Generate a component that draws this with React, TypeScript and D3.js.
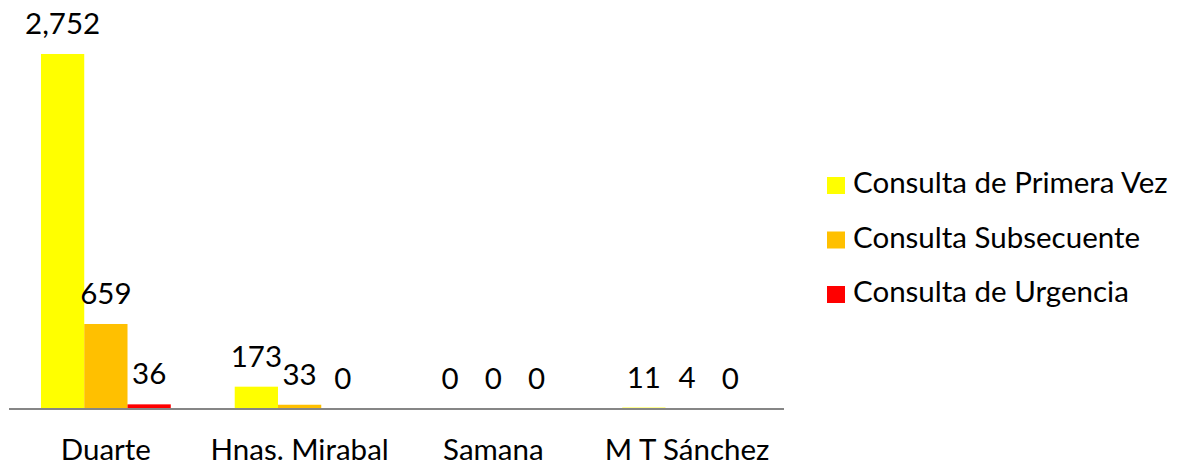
import React from "react";
import * as d3 from "d3";

const categories = ["Duarte", "Hnas. Mirabal", "Samana", "M T Sánchez"];
const seriesNames = ["Consulta de Primera Vez", "Consulta Subsecuente", "Consulta de Urgencia"];
const primeraVez = [2752, 173, 0, 11];
const subsecuente = [659, 33, 0, 4];
const urgencia = [36, 0, 0, 0];
const colors = ["#FFFF00", "#FFC000", "#FF0000"];

const W = 1181;
const H = 466;
const FONT = "Lato, 'Liberation Sans', sans-serif";
const FS = 29.5;

export default function App() {
  const series = [primeraVez, subsecuente, urgencia];
  const x0 = d3.scaleBand<string>().domain(categories).range([9, 784]).paddingInner(0.33).paddingOuter(0.165);
  const x1 = d3.scaleBand<number>().domain([0, 1, 2]).range([0, x0.bandwidth()]).padding(0);
  const y = d3.scaleLinear().domain([0, 3000]).range([409, 22]);
  const fmt = d3.format(",");

  return (
    <svg width={W} height={H} style={{ position: "absolute", left: 0, top: 0, background: "#fff" }} fontFamily={FONT}>
      {categories.map((c, i) => (
        <g key={c} transform={`translate(${x0(c)},0)`}>
          {series.map((s, j) => (
            <rect key={j} x={x1(j)} y={y(s[i])} width={x1.bandwidth()} height={y(0) - y(s[i])} fill={colors[j]} />
          ))}
          {series.map((s, j) => (
            <text key={"t" + j} x={(x1(j) as number) + x1.bandwidth() / 2} y={y(s[i]) - 20} textAnchor="middle" fontSize={FS} fill="#000">
              {fmt(s[i])}
            </text>
          ))}
        </g>
      ))}
      <line x1={9} x2={784} y1={y(0)} y2={y(0)} stroke="#868686" strokeWidth={2} />
      {categories.map((c) => (
        <text key={"c" + c} x={(x0(c) as number) + x0.bandwidth() / 2} y={460} textAnchor="middle" fontSize={FS} fill="#000">
          {c}
        </text>
      ))}
      {seriesNames.map((n, j) => (
        <g key={n} transform={`translate(827,${177 + j * 54.5})`}>
          <rect x={0} y={0} width={18} height={17} fill={colors[j]} />
          <text x={26} y={16} fontSize={FS} fill="#000">{n}</text>
        </g>
      ))}
    </svg>
  );
}
